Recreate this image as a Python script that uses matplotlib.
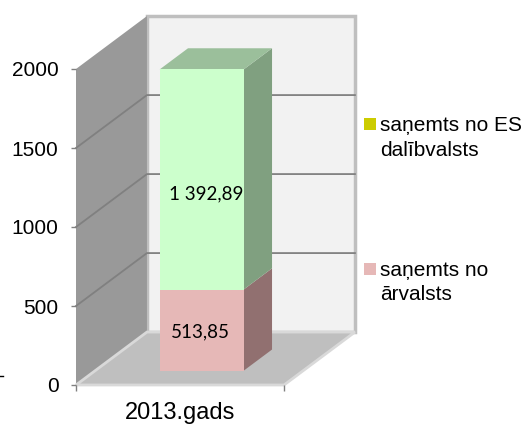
import matplotlib
matplotlib.use('Agg')
import matplotlib.pyplot as plt
from matplotlib.lines import Line2D
from matplotlib.patches import Polygon, Rectangle

plt.rcParams['font.family'] = ['Liberation Sans', 'DejaVu Sans']

# Data
category = '2013.gads'
series_names = ['saņemts no ES\ndalībvalsts', 'saņemts no\nārvalsts']
legend_colors = ['#cccc00', '#e6b8b7']
value_arvalsts = 513.85
value_es = 1392.89
value_labels = ['513,85', '1 392,89']
y_ticks = [0, 500, 1000, 1500, 2000]

# 3D look: how far the back wall is shifted from the front plane
DX = 0.341
DY = 335.0


def proj(x, y, d):
    return (x + d * DX, y + d * DY)


def face(ax, pts, color, ec='none', lw=0.0, z=1.0):
    ax.add_patch(Polygon(pts, closed=True, facecolor=color, edgecolor=ec,
                         linewidth=lw, clip_on=False, zorder=z))


def box(ax, x0, x1, y0, y1, d0, d1, front, side, top=None):
    # side
    face(ax, [proj(x1, y0, d0), proj(x1, y0, d1), proj(x1, y1, d1), proj(x1, y1, d0)], side)
    # top
    if top is not None:
        face(ax, [proj(x0, y1, d0), proj(x1, y1, d0), proj(x1, y1, d1), proj(x0, y1, d1)], top)
    # front
    face(ax, [proj(x0, y0, d0), proj(x1, y0, d0), proj(x1, y1, d0), proj(x0, y1, d0)], front)


fig = plt.figure(figsize=(5.26, 4.25), dpi=100)
ax = fig.add_axes([76 / 526, 1 - 385 / 425, 208 / 526, 316 / 425])
ax.set_xlim(0, 1)
ax.set_ylim(0, 2000)
for s in ax.spines.values():
    s.set_visible(False)

# walls and floor
y_top = y_ticks[-1]
face(ax, [proj(0, 0, 1), proj(1, 0, 1), proj(1, y_top, 1), proj(0, y_top, 1)],
     '#f2f2f2', '#bfbfbf', 2.5, z=0.3)
face(ax, [proj(0, 0, 0), proj(0, 0, 1), proj(0, y_top, 1), proj(0, y_top, 0)], '#999999', z=0.4)

# gridlines
for v in y_ticks[1:-1]:
    xs, ys = zip(proj(0, v, 0), proj(0, v, 1), proj(1, v, 1))
    ax.plot(xs, ys, color='#808080', lw=1.3, clip_on=False, zorder=0.5)

face(ax, [proj(0, 0, 0), proj(1, 0, 0), proj(1, 0, 1), proj(0, 0, 1)],
     '#bfbfbf', '#d9d9d9', 2.0, z=0.6)

# stacked bar
x0, x1 = 0.31, 0.714
d0, d1 = 0.27, 0.67
total = value_arvalsts + value_es
box(ax, x0, x1, 0, value_arvalsts, d0, d1, '#e6b8b7', '#917070')
box(ax, x0, x1, value_arvalsts, total, d0, d1, '#ccffcc', '#80a080', '#9bbf9b')

label_font = ['Lato', 'DejaVu Sans']
xc, _ = proj((x0 + x1) / 2, 0, d0)
ax.text(xc - 0.005, value_arvalsts / 2 + d0 * DY - 12, value_labels[0], ha='center', va='center',
        fontsize=13.5, family=label_font, color='black')
ax.text(xc + 0.02, value_arvalsts + value_es / 2 + d0 * DY - 90, value_labels[1], ha='center',
        va='center', fontsize=13.5, family=label_font, color='black')

# axes ticks
ax.set_yticks(y_ticks)
ax.tick_params(axis='y', length=3.6, width=1.0, color='#808080', labelsize=15, pad=9)
ax.set_xticks([0, 1], ['', ''])
ax.set_xticks([0.5], [category], minor=True)
ax.tick_params(axis='x', which='major', length=4.5, width=1.0, color='#808080')
ax.tick_params(axis='x', which='minor', length=0, labelsize=17, pad=12)

# legend, square sits next to the first line of each entry
legend_tops = [118, 263]
for name, col, top in zip(series_names, legend_colors, legend_tops):
    fig.add_artist(Rectangle((364 / 526, 1 - (top + 11.5) / 425), 11.5 / 526, 11.5 / 425,
                             transform=fig.transFigure, facecolor=col, edgecolor='none'))
    fig.text(380 / 526, 1 - (top + 37.5) / 425, name, fontsize=15, va='baseline',
             linespacing=1.35, color='black')

# small stray mark at the left edge
fig.add_artist(Line2D([0, 3 / 526], [1 - 376 / 425, 1 - 376 / 425], color='black', lw=1.0))

fig.savefig('out.png', dpi=100)
